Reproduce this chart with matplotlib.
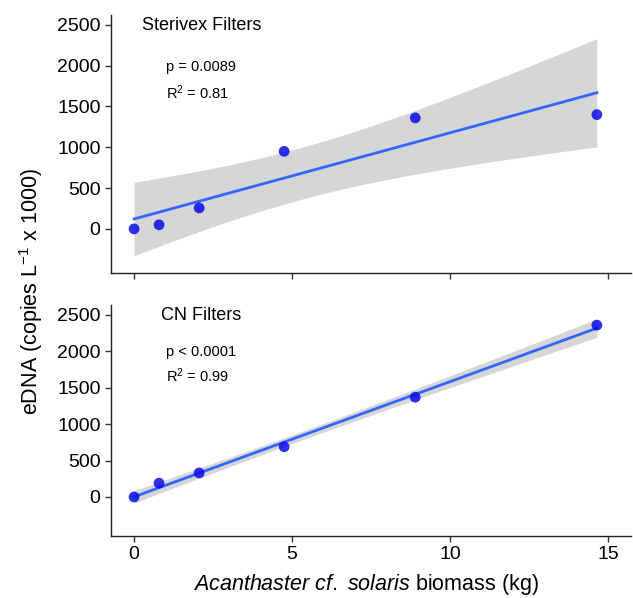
import matplotlib
matplotlib.use("Agg")
import matplotlib.pyplot as plt
import numpy as np

plt.rcParams['font.family'] = ['Liberation Sans', 'DejaVu Sans']
plt.rcParams['mathtext.fontset'] = 'custom'
plt.rcParams['mathtext.rm'] = 'Liberation Sans'
plt.rcParams['mathtext.it'] = 'Liberation Sans:italic'
plt.rcParams['mathtext.bf'] = 'Liberation Sans:bold'

# biomass (kg)
biomass = [0.0, 0.79, 2.06, 4.75, 8.9, 14.65]
# eDNA copies per litre x 1000
sterivex = [0, 50, 257, 950, 1360, 1400]
cn = [0, 190, 330, 690, 1370, 2360]

panels = ["Sterivex Filters", "CN Filters"]
p_labels = ["p = 0.0089", "p < 0.0001"]
r2_labels = ["0.81", "0.99"]
y_ticks = [0, 500, 1000, 1500, 2000, 2500]
x_ticks = [0, 5, 10, 15]


def fit_ci(x, y, xs):
    # ordinary least squares with 95% confidence band (like geom_smooth lm)
    x = np.asarray(x, float)
    y = np.asarray(y, float)
    n = len(x)
    b, a = np.polyfit(x, y, 1)
    resid = y - (a + b * x)
    s = np.sqrt(np.sum(resid ** 2) / (n - 2))
    sxx = np.sum((x - x.mean()) ** 2)
    t = 2.776  # t(0.975, df=4)
    yhat = a + b * xs
    se = s * np.sqrt(1.0 / n + (xs - x.mean()) ** 2 / sxx)
    return yhat, yhat - t * se, yhat + t * se


fig = plt.figure(figsize=(6.33, 5.98), dpi=100)
ax_top = fig.add_axes([0.1754, 0.5435, 0.8214, 0.4314])
ax_bot = fig.add_axes([0.1754, 0.1037, 0.8214, 0.3863])

xs = np.linspace(min(biomass), max(biomass), 100)

for ax, ydata, title, tx, ptxt, r2, ylim in [
    (ax_top, sterivex, panels[0], 0.25, p_labels[0], r2_labels[0], (-540, 2620)),
    (ax_bot, cn, panels[1], 0.85, p_labels[1], r2_labels[1], (-536, 2637)),
]:
    yhat, lo, hi = fit_ci(biomass, ydata, xs)
    ax.fill_between(xs, lo, hi, color='#d6d6d6', lw=0, zorder=1)
    ax.plot(xs, yhat, color='#3366FF', lw=2, zorder=2)
    ax.scatter(biomass, ydata, s=60, color='#0a0ae6', alpha=0.85,
               edgecolors='none', zorder=3)

    ax.set_xlim(-0.73, 15.73)
    ax.set_ylim(*ylim)
    ax.set_xticks(x_ticks)
    ax.set_yticks(y_ticks)
    ax.tick_params(labelsize=14, color='#333333', length=4, width=1)
    for side in ['top', 'right']:
        ax.spines[side].set_visible(False)
    for side in ['left', 'bottom']:
        ax.spines[side].set_color('#222222')
        ax.spines[side].set_linewidth(1)

    ax.text(tx, 2490, title, fontsize=13, va='center', ha='left')
    ax.text(1.0, 1985, ptxt, fontsize=10.5, va='center', ha='left')
    ax.text(1.0, 1670, "R$^2$ = " + r2, fontsize=10.5, va='center', ha='left')

ax_top.tick_params(labelbottom=False)

fig.text(0.049, 0.512, "eDNA (copies L$^{-1}$ x 1000)", rotation=90,
         fontsize=15.5, va='center', ha='center')
fig.text(0.578, 0.023, r"$\it{Acanthaster\ cf.\ solaris}$ biomass (kg)",
         fontsize=15.5, va='center', ha='center')

fig.savefig("out.png", dpi=100)
